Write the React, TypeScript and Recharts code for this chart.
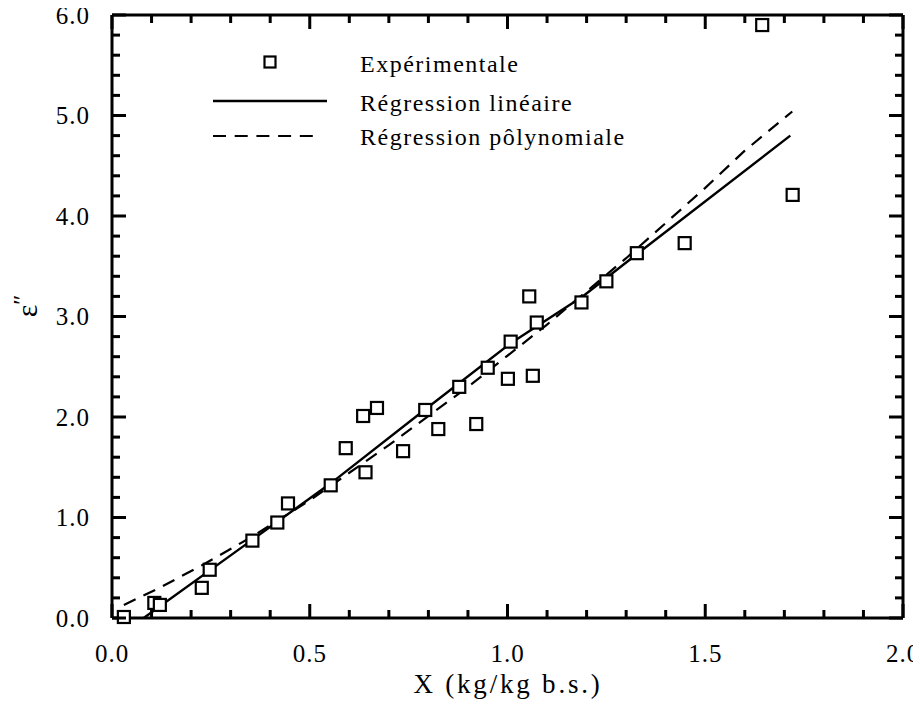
import React from 'react';
import { ComposedChart, XAxis, YAxis, Scatter, Line } from 'recharts';

// Experimental points: X (kg/kg b.s.) and ε''
const expX = [0.03, 0.107, 0.121, 0.227, 0.247, 0.355, 0.418, 0.445, 0.553, 0.641, 0.591, 0.635, 0.67, 0.736, 0.792, 0.825, 0.878, 0.921, 0.95, 1.001, 1.064, 1.008, 1.074, 1.055, 1.187, 1.25, 1.327, 1.448, 1.721, 1.644];
const expY = [0.01, 0.15, 0.13, 0.3, 0.48, 0.77, 0.95, 1.14, 1.32, 1.45, 1.69, 2.01, 2.09, 1.66, 2.07, 1.88, 2.3, 1.93, 2.49, 2.38, 2.41, 2.75, 2.94, 3.2, 3.14, 3.35, 3.63, 3.73, 4.21, 5.9];

// Linear regression curve
const linX = [0.08, 0.553, 0.79, 1.01, 1.19, 1.33, 1.715];
const linY = [0.0, 1.34, 2.07, 2.74, 3.2, 3.63, 4.8];

// Polynomial regression curve
const polyX = [0.03, 0.12, 0.23, 0.35, 0.5, 0.7, 0.9, 1.1, 1.3, 1.5, 1.6, 1.72];
const polyY = [0.13, 0.3, 0.53, 0.8, 1.17, 1.72, 2.3, 2.92, 3.58, 4.28, 4.65, 5.04];

const xMinorTicks = [0, 0.1, 0.2, 0.3, 0.4, 0.5, 0.6, 0.7, 0.8, 0.9, 1.0, 1.1, 1.2, 1.3, 1.4, 1.5, 1.6, 1.7, 1.8, 1.9, 2.0];
const xMajorTicks = [0, 0.5, 1.0, 1.5, 2.0];
const yMinorTicks = [0, 0.2, 0.4, 0.6, 0.8, 1.0, 1.2, 1.4, 1.6, 1.8, 2.0, 2.2, 2.4, 2.6, 2.8, 3.0, 3.2, 3.4, 3.6, 3.8, 4.0, 4.2, 4.4, 4.6, 4.8, 5.0, 5.2, 5.4, 5.6, 5.8, 6.0];
const yMajorTicks = [0, 1, 2, 3, 4, 5, 6];
const xDomain: [number, number] = [0, 2];
const yDomain: [number, number] = [0, 6];

const legendLabels = ['Expérimentale', 'Régression linéaire', 'Régression pôlynomiale'];
const xTitle = 'X (kg/kg b.s.)';

const expData = expX.map((x, i) => ({ x, y: expY[i] }));
const linData = linX.map((x, i) => ({ x, y: linY[i] }));
const polyData = polyX.map((x, i) => ({ x, y: polyY[i] }));

const FONT = '"Liberation Serif", "Times New Roman", serif';

// layout
const W = 905;
const H = 695;
const MARGIN = { top: 6, right: 9, bottom: 45, left: 64 };
const LEFT_AXIS_W = 40;
const RIGHT_AXIS_W = 1;
const BOTTOM_AXIS_H = 40;
const TOP_AXIS_H = 1;
const PX0 = MARGIN.left + LEFT_AXIS_W;
const PX1 = W - MARGIN.right - RIGHT_AXIS_W;
const PY0 = MARGIN.top + TOP_AXIS_H;
const PY1 = H - MARGIN.bottom - BOTTOM_AXIS_H;
const MAJ = 14;
const MIN = 8;
const TW = 3;

const isMajorX = (v: number) => xMajorTicks.some((t) => Math.abs(t - v) < 1e-6);
const isMajorY = (v: number) => yMajorTicks.some((t) => Math.abs(t - v) < 1e-6);
const frameX = (v: number) => PX0 + ((v - xDomain[0]) / (xDomain[1] - xDomain[0])) * (PX1 - PX0);
const frameY = (v: number) => PY1 - ((v - yDomain[0]) / (yDomain[1] - yDomain[0])) * (PY1 - PY0);

const SquareShape = (p: any) => {
  const { cx, cy } = p;
  if (cx == null || cy == null) return null;
  return <rect x={cx - 6} y={cy - 6} width={12} height={12} fill="#fff" stroke="#000" strokeWidth={2.2} />;
};

const fmt = (v: number) => v.toFixed(1);

export default function App() {
  const axisLine = { stroke: '#000', strokeWidth: 3 };
  const tickFont = { fontFamily: FONT, fontSize: 25, fill: '#000', letterSpacing: 1 };
  return (
    <div style={{ position: 'relative', width: W, height: H }}>
      <style>{'svg { overflow: visible; }'}</style>
      <ComposedChart width={W} height={H} margin={MARGIN}>
        <XAxis
          xAxisId="b"
          orientation="bottom"
          dataKey="x"
          type="number"
          domain={xDomain}
          ticks={xMajorTicks}
          interval={0}
          height={BOTTOM_AXIS_H}
          tickSize={0}
          tickMargin={26}
          tickLine={false}
          tick={tickFont}
          tickFormatter={fmt}
          axisLine={axisLine}
        />
        <XAxis
          xAxisId="t"
          orientation="top"
          dataKey="x"
          type="number"
          domain={xDomain}
          ticks={xMajorTicks}
          height={TOP_AXIS_H}
          tickLine={false}
          tick={false}
          axisLine={axisLine}
        />
        <YAxis
          yAxisId="l"
          orientation="left"
          dataKey="y"
          type="number"
          domain={yDomain}
          ticks={yMajorTicks}
          interval={0}
          width={LEFT_AXIS_W}
          tickSize={0}
          tickMargin={22}
          tickLine={false}
          tick={tickFont}
          tickFormatter={fmt}
          axisLine={axisLine}
        />
        <YAxis
          yAxisId="r"
          orientation="right"
          dataKey="y"
          type="number"
          domain={yDomain}
          ticks={yMajorTicks}
          width={RIGHT_AXIS_W}
          tickLine={false}
          tick={false}
          axisLine={axisLine}
        />
        <Line
          xAxisId="b"
          yAxisId="l"
          data={linData}
          dataKey="y"
          type="linear"
          stroke="#000"
          strokeWidth={2.4}
          dot={false}
          activeDot={false}
          isAnimationActive={false}
          legendType="none"
        />
        <Line
          xAxisId="b"
          yAxisId="l"
          data={polyData}
          dataKey="y"
          type="linear"
          stroke="#000"
          strokeWidth={2.2}
          strokeDasharray="13 8.7"
          dot={false}
          activeDot={false}
          isAnimationActive={false}
          legendType="none"
        />
        <Scatter
          xAxisId="b"
          yAxisId="l"
          data={expData}
          dataKey="y"
          shape={<SquareShape />}
          isAnimationActive={false}
          legendType="none"
        />
      </ComposedChart>
      <svg
        width={W}
        height={H}
        style={{ position: 'absolute', left: 0, top: 0, pointerEvents: 'none' }}
      >
        {/* inward tick marks on the four sides of the frame */}
        <g fill="#000" stroke="none">
          {xMinorTicks.map((v) => {
            const x = frameX(v);
            const l = isMajorX(v) ? MAJ : MIN;
            return (
              <g key={'x' + v}>
                <rect x={x - TW / 2} y={PY1 - l} width={TW} height={l} />
                <rect x={x - TW / 2} y={PY0} width={TW} height={l} />
              </g>
            );
          })}
          {yMinorTicks.map((v) => {
            const y = frameY(v);
            const l = isMajorY(v) ? MAJ : MIN;
            return (
              <g key={'y' + v}>
                <rect x={PX0} y={y - TW / 2} width={l} height={TW} />
                <rect x={PX1 - l} y={y - TW / 2} width={l} height={TW} />
              </g>
            );
          })}
        </g>
        <rect x={256.5} y={48.5} width={11} height={11} fill="#fff" stroke="#000" strokeWidth={2.2} />
        <line x1={205} y1={93} x2={319} y2={93} stroke="#000" strokeWidth={2.4} />
        <line x1={205} y1={128} x2={310} y2={128} stroke="#000" strokeWidth={2.2} strokeDasharray="13 8.7" />
        <text x={352} y={64} fontFamily={FONT} fontSize={24} letterSpacing={1.5} fill="#000">{legendLabels[0]}</text>
        <text x={352} y={103} fontFamily={FONT} fontSize={24} letterSpacing={1.5} fill="#000">{legendLabels[1]}</text>
        <text x={352} y={137} fontFamily={FONT} fontSize={24} letterSpacing={1.5} fill="#000">{legendLabels[2]}</text>
        <text x={500} y={685} textAnchor="middle" fontFamily={FONT} fontSize={27} letterSpacing={2.8} fill="#000">{xTitle}</text>
        <text x={29} y={298} transform="rotate(-90, 29, 298)" textAnchor="middle" fontFamily={FONT} fontSize={30} fill="#000">
          ε<tspan fontSize={24} dy={-8}>″</tspan>
        </text>
      </svg>
    </div>
  );
}
